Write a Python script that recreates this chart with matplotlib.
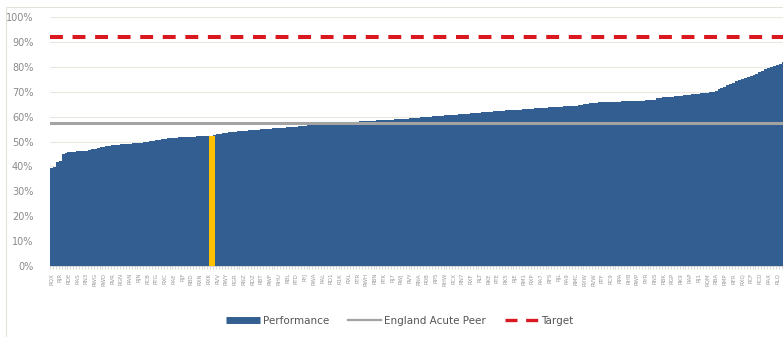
import matplotlib
matplotlib.use("Agg")
import matplotlib.pyplot as plt
from matplotlib.lines import Line2D
from matplotlib.patches import Rectangle
import numpy as np

# Performance per provider, sorted ascending (%)
performance = [
    39.4, 39.6, 41.8, 42.1, 44.9, 45.3, 45.7, 45.8, 45.9, 46.0, 46.1, 46.2,
    46.3, 46.5, 46.8, 47.1, 47.4, 47.7, 47.9, 48.1, 48.3, 48.5, 48.6, 48.7,
    48.8, 48.9, 49.0, 49.1, 49.2, 49.3, 49.4, 49.5, 49.7, 49.9, 50.1, 50.3,
    50.5, 50.7, 50.9, 51.1, 51.3, 51.4, 51.5, 51.6, 51.7, 51.8, 51.8, 51.9,
    52.0, 52.0, 52.1, 52.2, 52.2, 52.3, 52.3, 52.4, 52.6, 52.9, 53.1, 53.3,
    53.5, 53.7, 53.9, 54.0, 54.1, 54.2, 54.3, 54.4, 54.5, 54.6, 54.7, 54.8,
    54.9, 55.0, 55.1, 55.2, 55.3, 55.4, 55.5, 55.6, 55.6, 55.7, 55.8, 55.9,
    56.0, 56.1, 56.2, 56.3, 56.5, 56.6, 56.7, 56.8, 56.9, 57.0, 57.1, 57.2,
    57.3, 57.4, 57.4, 57.5, 57.6, 57.7, 57.8, 57.9, 57.9, 58.0, 58.1, 58.2,
    58.2, 58.3, 58.4, 58.4, 58.5, 58.6, 58.6, 58.7, 58.8, 58.8, 58.9, 59.0,
    59.0, 59.1, 59.2, 59.3, 59.4, 59.5, 59.6, 59.7, 59.8, 59.9, 60.0, 60.1,
    60.2, 60.3, 60.4, 60.5, 60.5, 60.6, 60.7, 60.8, 60.9, 61.0, 61.1, 61.2,
    61.3, 61.4, 61.5, 61.6, 61.7, 61.8, 61.9, 62.0, 62.1, 62.2, 62.3, 62.4,
    62.5, 62.6, 62.6, 62.7, 62.7, 62.8, 62.9, 63.0, 63.1, 63.2, 63.3, 63.4,
    63.5, 63.5, 63.6, 63.7, 63.8, 63.9, 63.9, 64.0, 64.1, 64.1, 64.2, 64.3,
    64.4, 64.6, 64.8, 65.0, 65.2, 65.4, 65.5, 65.6, 65.7, 65.7, 65.8, 65.8,
    65.9, 65.9, 66.0, 66.0, 66.1, 66.1, 66.2, 66.2, 66.3, 66.3, 66.4, 66.4,
    66.5, 66.6, 66.7, 66.8, 67.4, 67.6, 67.7, 67.8, 67.9, 68.0, 68.1, 68.3,
    68.4, 68.5, 68.6, 68.8, 68.9, 69.0, 69.2, 69.3, 69.5, 69.6, 69.8, 69.9,
    70.1, 71.0, 71.4, 72.0, 72.6, 73.1, 73.6, 74.2, 74.6, 75.0, 75.4, 75.8,
    76.2, 76.8, 77.3, 77.8, 78.4, 79.0, 79.4, 79.8, 80.3, 80.8, 81.3, 81.8,
]

# Provider codes shown on the category axis (every third provider)
provider_codes = [
    "RQX", "RJR", "RDE", "RAS", "RN3", "RWG", "RWD", "RVR", "RGN", "RAN",
    "RJN", "RCB", "RTG", "RXC", "RAE", "RJF", "RBD", "RXN", "RXK", "RVV",
    "RWY", "RGR", "RNZ", "RDZ", "RBT", "RWF", "RHU", "RBL", "RTD", "RYJ",
    "RWA", "RAL", "RD1", "R1K", "RXL", "RTR", "RWH", "RBN", "RTK", "RJ7",
    "RWJ", "RVY", "RNA", "R0B", "RP5", "RHW", "RCX", "RN7", "RXF", "RLT",
    "RKE", "RTE", "RK5", "RJE", "RM1", "RXP", "RA7", "RFS", "RJL", "RA9",
    "RMC", "RXW", "RVW", "RTF", "RC9", "RPA", "RH8", "RWP", "RYR", "RNS",
    "RBK", "RGP", "RK9", "RAP", "RJ1", "RQM", "RBA", "RMP", "RFR", "RXQ",
    "RCF", "RCD", "RAX", "RLQ",
]

highlight_index = 55      # provider of interest
peer_average = 57.3       # England acute peer (%)
target = 92.0             # target (%)

label_step = 3

BAR_BLUE = "#335e91"
HIGHLIGHT = "#ffc000"
PEER_GREY = "#a3a3a3"
TARGET_RED = "#d9191f"
TEXT_GREY = "#8a8a8a"

fig = plt.figure(figsize=(7.83, 3.37), dpi=100)
W, H = 783, 337

# chart frame
fig.patches.append(Rectangle((6 / W, -0.05), 1.1, 1 - 7 / H + 0.05,
                             transform=fig.transFigure, fill=False,
                             edgecolor="#e2e2da", linewidth=0.8))

ax = fig.add_axes([50 / W, 1 - 266 / H, 1 - 50 / W + 0.002, (266 - 17) / H])

n = len(performance)
x = np.arange(n)
vals = np.array(performance) / 100.0

ax.bar(x, vals, width=1.0, color=BAR_BLUE, linewidth=0, zorder=2)
ax.bar(x[highlight_index], vals[highlight_index], width=2.0,
       color=HIGHLIGHT, linewidth=0, zorder=3)

ax.axhline(peer_average / 100, color=PEER_GREY, linewidth=2.2, zorder=4)
ax.axhline(target / 100, color=TARGET_RED, linewidth=2.9,
           dashes=(3.2, 2.4), zorder=4)

ax.set_ylim(0, 1.0)
ax.set_xlim(-0.5, n - 0.5)

ax.set_yticks(np.arange(0, 1.01, 0.1))
ax.set_yticklabels([f"{int(round(v * 100))}%" for v in np.arange(0, 1.01, 0.1)],
                   fontsize=7, color=TEXT_GREY)
ax.yaxis.grid(True, color="#e8e8df", linewidth=0.8, zorder=0)
ax.set_axisbelow(True)

label_pos = x[::label_step][:len(provider_codes)]
ax.set_xticks(label_pos)
ax.set_xticklabels(provider_codes[:len(label_pos)], rotation=90,
                   fontsize=4.0, color="#9a9a9a")
ax.set_xticks(np.arange(-0.5, n, 1.0), minor=True)
ax.tick_params(axis="x", which="major", length=0, pad=5)
ax.tick_params(axis="x", which="minor", length=2, width=0.5, color="#c8c8c8")
ax.tick_params(axis="y", length=0, pad=12)

for s in ["top", "right", "left"]:
    ax.spines[s].set_visible(False)
ax.spines["bottom"].set_color("#d0d0d0")
ax.spines["bottom"].set_linewidth(0.6)

handles = [
    Line2D([], [], color=BAR_BLUE, linewidth=5, solid_capstyle="butt"),
    Line2D([], [], color=PEER_GREY, linewidth=1.6),
    Line2D([], [], color=TARGET_RED, linewidth=2.4, dashes=(3.6, 2.6)),
]
fig.legend(handles, ["Performance", "England Acute Peer", "Target"],
           loc="center", bbox_to_anchor=(400 / W, 1 - 321 / H), ncol=3,
           frameon=False, fontsize=7.5, handlelength=3.2, handletextpad=0.3,
           columnspacing=1.8, labelcolor="#555555")

fig.savefig("out.png", dpi=100)
